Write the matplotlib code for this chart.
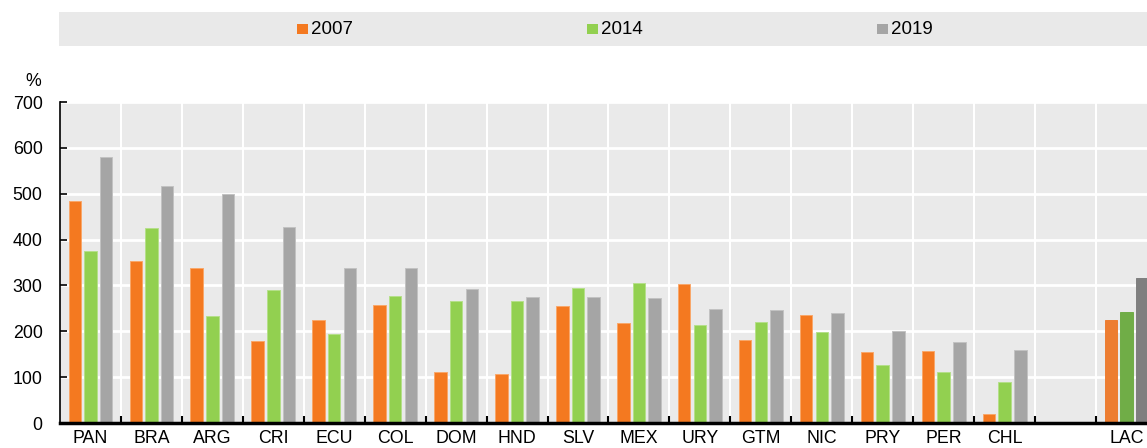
import matplotlib
matplotlib.use("Agg")
import matplotlib.pyplot as plt
from matplotlib.patches import Rectangle
import numpy as np

plt.rcParams['font.family'] = ['Liberation Sans', 'DejaVu Sans']

categories = ["PAN", "BRA", "ARG", "CRI", "ECU", "COL", "DOM", "HND", "SLV",
              "MEX", "URY", "GTM", "NIC", "PRY", "PER", "CHL", "", "LAC"]
series_names = ["2007", "2014", "2019"]
v2007 = [485, 353, 337, 179, 225, 258, 112, 107, 256, 219, 303, 180, 235, 155, 158, 20, np.nan, 224]
v2014 = [374, 425, 233, 291, 195, 276, 267, 265, 295, 306, 213, 221, 198, 126, 111, 90, np.nan, 243]
v2019 = [580, 516, 500, 428, 339, 338, 293, 275, 275, 272, 249, 247, 240, 200, 176, 159, np.nan, 316]
yticks = [0, 100, 200, 300, 400, 500, 600, 700]

colors = ["#F47920", "#92D050", "#A5A5A5"]
edge_colors = ["#F9A76A", "#B5E08A", "#C2C2C2"]
hl_colors = ["#ED7D31", "#70AD47", "#7F7F7F"]
highlight = "LAC"

W, H = 1147, 448
fig = plt.figure(figsize=(W / 100, H / 100), dpi=100)
ax = fig.add_axes([60 / W, 1 - 423 / H, (W - 60) / W, (423 - 102) / H])
ax.set_facecolor("#EAEAEA")

x = np.arange(len(categories))
offs = [-0.257, 0.0, 0.257]
bw = 0.205
for i, vals in enumerate([v2007, v2014, v2019]):
    fc = [hl_colors[i] if c == highlight else colors[i] for c in categories]
    ec = [hl_colors[i] if c == highlight else edge_colors[i] for c in categories]
    ax.bar(x + offs[i], vals, width=bw, color=fc, edgecolor=ec, linewidth=0.7, zorder=3)

ax.set_yticks(yticks)
ax.set_yticklabels([str(t) for t in yticks], fontsize=12.8)
ax.set_xticks(x)
ax.set_xticklabels(categories, fontsize=12.8)
ax.set_xticks(np.arange(len(categories)) + 0.5, minor=True)
ax.set_ylim(0, 700)
ax.set_xlim(-0.5, len(categories) - 0.5 - 10 / 61)
ax.tick_params(axis="x", which="major", length=0, pad=5)
ax.tick_params(axis="x", which="minor", direction="in", length=5, width=1.5, color="black")
ax.tick_params(axis="y", which="major", direction="in", length=5, width=1.2, pad=12.5)

ax.grid(axis="y", which="major", color="white", linewidth=2, zorder=1)
ax.grid(axis="x", which="minor", color="white", linewidth=1.5, zorder=1)
ax.set_axisbelow(True)

for s in ["top", "right"]:
    ax.spines[s].set_visible(False)
ax.spines["left"].set_linewidth(1.2)
ax.spines["bottom"].set_linewidth(2.5)
ax.spines["bottom"].set_zorder(5)

fig.text(33 / W, 1 - 81 / H, "%", fontsize=12.8, ha="center", va="center")

# legend band
fig.patches.append(Rectangle((59 / W, 1 - 46.5 / H), (W - 59) / W, 34.5 / H,
                             transform=fig.transFigure, facecolor="#E9E9E9",
                             edgecolor="none", zorder=0))
leg_x = [297, 587, 877]
for i, name in enumerate(series_names):
    fig.patches.append(Rectangle((leg_x[i] / W, 1 - 34.5 / H), 10.5 / W, 10.5 / H,
                                 transform=fig.transFigure, facecolor=colors[i],
                                 edgecolor="none", zorder=1))
    fig.text((leg_x[i] + 14) / W, 1 - 29.5 / H, name, fontsize=13.5,
             ha="left", va="center")

fig.savefig("out.png", dpi=100)
